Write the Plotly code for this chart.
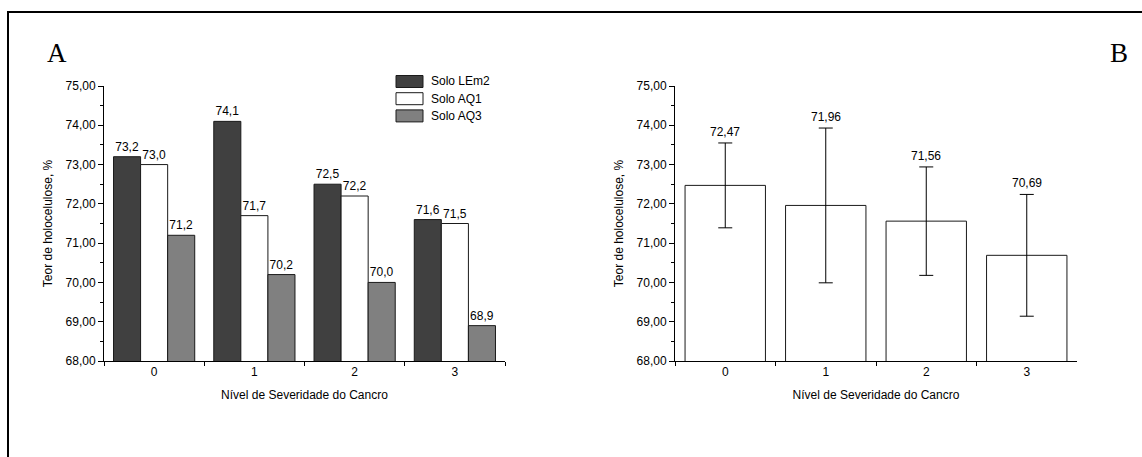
import plotly.graph_objects as go

categories = ["0", "1", "2", "3"]
solo_lem2 = [73.2, 74.1, 72.5, 71.6]
solo_aq1 = [73.0, 71.7, 72.2, 71.5]
solo_aq3 = [71.2, 70.2, 70.0, 68.9]
media = [72.47, 71.96, 71.56, 70.69]
desvio = [1.08, 1.97, 1.38, 1.55]
series_names = ["Solo LEm2", "Solo AQ1", "Solo AQ3"]

W, H = 1142, 457
def px(x): return x / W
def py(y): return 1 - y / H

def fmt(v, d):
    return f"{v:.{d}f}".replace(".", ",")

FONT = "Liberation Sans, Arial, sans-serif"
colors = ["#404040", "#ffffff", "#808080"]
fig = go.Figure()

for name, vals, col in zip(series_names, [solo_lem2, solo_aq1, solo_aq3], colors):
    fig.add_trace(go.Bar(
        x=categories, y=vals, name=name, showlegend=False,
        marker=dict(color=col, line=dict(color="#1a1a1a", width=1)),
        text=[fmt(v, 1) for v in vals], textposition="outside",
        textfont=dict(family=FONT, size=12, color="black"),
        cliponaxis=False, xaxis="x", yaxis="y"))

fig.add_trace(go.Bar(
    x=categories, y=media, width=0.8, showlegend=False,
    marker=dict(color="white", line=dict(color="#1a1a1a", width=1)),
    error_y=dict(type="data", array=desvio, color="black", thickness=1, width=7),
    xaxis="x2", yaxis="y2"))

annotations = [
    dict(x=c, y=m + d, xref="x2", yref="y2", text=fmt(m, 2), showarrow=False,
         yanchor="bottom", yshift=2, font=dict(family=FONT, size=12, color="black"))
    for c, m, d in zip(categories, media, desvio)
]
annotations += [
    dict(text="A", xref="paper", yref="paper", x=px(45), y=py(53), xanchor="left", yanchor="middle",
         showarrow=False, font=dict(family="Liberation Serif, Times New Roman, serif", size=27, color="black")),
    dict(text="B", xref="paper", yref="paper", x=px(1108), y=py(53), xanchor="left", yanchor="middle",
         showarrow=False, font=dict(family="Liberation Serif, Times New Roman, serif", size=27, color="black")),
]

shapes = [dict(type="rect", xref="paper", yref="paper", x0=px(8), x1=1.02, y0=-0.02, y1=py(12),
               line=dict(color="black", width=2))]
# legend (boxes + labels)
for i, (name, col) in enumerate(zip(series_names, colors)):
    yc = 81.5 + i * 17.2
    shapes.append(dict(type="rect", xref="paper", yref="paper", x0=px(396), x1=px(423),
                       y0=py(yc + 6), y1=py(yc - 6), fillcolor=col,
                       line=dict(color="#1a1a1a", width=1)))
    annotations.append(dict(text=name, xref="paper", yref="paper", x=px(429), y=py(yc),
                            xanchor="left", yanchor="middle", showarrow=False,
                            font=dict(family=FONT, size=12, color="black")))

yax = dict(range=[68, 75], tickvals=[68, 69, 70, 71, 72, 73, 74, 75], tickformat=".2f",
           ticks="outside", ticklen=5, tickwidth=1, tickcolor="black",
           showline=True, linecolor="black", linewidth=1, showgrid=False, zeroline=False,
           minor=dict(dtick=0.5, ticks="outside", ticklen=3, tickcolor="black", showgrid=False),
           tickfont=dict(family=FONT, size=12, color="black"),
           title=dict(text="Teor de holocelulose, %", font=dict(family=FONT, size=12, color="black"), standoff=10))
xax = dict(type="category", tickson="boundaries", ticks="outside", ticklen=4, tickcolor="black",
           showline=True, linecolor="black", linewidth=1, showgrid=False,
           tickfont=dict(family=FONT, size=12, color="black"),
           title=dict(text="Nível de Severidade do Cancro", font=dict(family=FONT, size=12, color="black"), standoff=12))

fig.update_layout(
    width=W, height=H, margin=dict(l=0, r=0, t=0, b=0, autoexpand=False),
    paper_bgcolor="white", plot_bgcolor="white", separators=",.",
    barmode="group", bargap=0.19, bargroupgap=0,
    xaxis=dict(domain=[px(104), px(505)], anchor="y", **xax),
    yaxis=dict(domain=[py(361), py(86)], anchor="x", **yax),
    xaxis2=dict(domain=[px(675), px(1077)], anchor="y2", **xax),
    yaxis2=dict(domain=[py(361), py(86)], anchor="x2", **yax),
    showlegend=False,
    shapes=shapes,
    annotations=annotations,
)

fig.write_html("out.html", config={"displayModeBar": False},
               post_script="document.body.style.margin='0';document.body.style.overflow='hidden';")
